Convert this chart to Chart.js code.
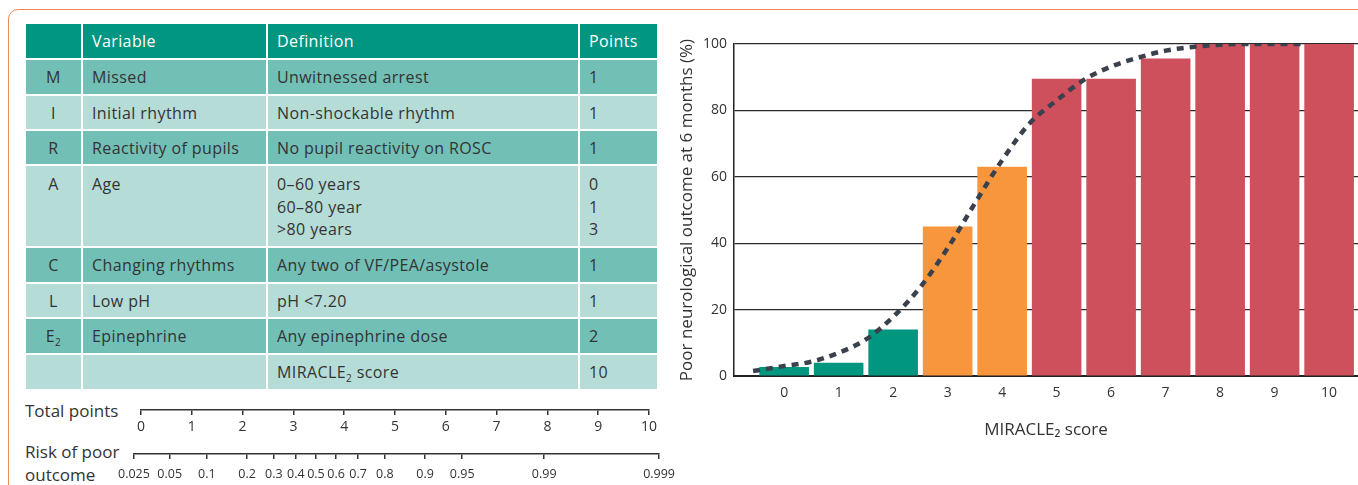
<!DOCTYPE html>
<html>
<head>
<meta charset="utf-8">
<title>MIRACLE2 score</title>
<script src="https://cdn.jsdelivr.net/npm/chart.js@4.4.1/dist/chart.umd.min.js"></script>
<style>
    body {
        margin: 0;
        width: 1358px;
        height: 485px;
        overflow: hidden;
        position: relative;
        background: #fff;
        font-family: 'Open Sans', sans-serif;
        color: #333;
    }
    .frame {
        position: absolute;
        left: 8px;
        top: 9px;
        width: 1420px;
        height: 560px;
        border: 1.5px solid #ee8a55;
        border-radius: 10px;
    }
    table.miracle {
        position: absolute;
        left: 24px;
        top: 22px;
        border-collapse: separate;
        border-spacing: 2px;
        table-layout: fixed;
        width: 635px;
        font-size: 16px;
        letter-spacing: 0.4px;
    }
    table.miracle td {
        box-sizing: border-box;
        padding: 0 9px;
        vertical-align: middle;
        white-space: nowrap;
        color: #333;
    }
    table.miracle td.letter { text-align: center; padding: 0; }
    table.miracle tr.head td { background: #009682; color: #fff; }
    table.miracle tr.dark td { background: #72bfb6; }
    table.miracle tr.light td { background: #b6dcd8; }
    table.miracle tr.tall td { vertical-align: top; padding-top: 7px; line-height: 22.5px; }
    table.miracle sub { font-size: 10px; line-height: 0; }
    .label {
        position: absolute;
        left: 25px;
        font-size: 17px;
        line-height: 20px;
        color: #333;
    }
    canvas { position: absolute; }
</style>
</head>
<body>
<div class="frame"></div>
<table class="miracle" id="scoreTable">
    <colgroup>
        <col style="width:55px"><col style="width:183px"><col style="width:310px"><col style="width:77px">
    </colgroup>
    <tbody></tbody>
</table>

<div class="label" style="top:401px">Total points</div>
<div class="label" style="top:442px">Risk of poor</div>
<div class="label" style="top:465px">outcome</div>

<canvas id="pointsAxis" width="549" height="40" style="left:120px; top:400px"></canvas>
<canvas id="riskAxis" width="573" height="40" style="left:110px; top:444px"></canvas>
<canvas id="outcomeChart" width="698" height="465" style="left:660px; top:20px"></canvas>

<script>
// Score table
const headerCells = ['', 'Variable', 'Definition', 'Points'];
const rowLetters = ['M', 'I', 'R', 'A', 'C', 'L', 'E<sub>2</sub>', ''];
const rowVariables = ['Missed', 'Initial rhythm', 'Reactivity of pupils', 'Age', 'Changing rhythms', 'Low pH', 'Epinephrine', ''];
const rowDefinitions = ['Unwitnessed arrest', 'Non-shockable rhythm', 'No pupil reactivity on ROSC',
    '0–60 years<br>60–80 year<br>&gt;80 years', 'Any two of VF/PEA/asystole', 'pH &lt;7.20',
    'Any epinephrine dose', 'MIRACLE<sub>2</sub> score'];
const rowPoints = ['1', '1', '1', '0<br>1<br>3', '1', '1', '2', '10'];
const rowHeights = [34, 33, 33, 80, 34, 33, 34, 34];

// Nomogram axes
const totalPoints = [0, 1, 2, 3, 4, 5, 6, 7, 8, 9, 10];
const riskTicks = [0.025, 0.05, 0.1, 0.2, 0.3, 0.4, 0.5, 0.6, 0.7, 0.8, 0.9, 0.95, 0.99, 0.999];
const riskLabels = ['0.025', '0.05', '0.1', '0.2', '0.3', '0.4', '0.5', '0.6', '0.7', '0.8', '0.9', '0.95', '0.99', '0.999'];

// Bar chart: observed poor outcome by MIRACLE2 score
const scores = [0, 1, 2, 3, 4, 5, 6, 7, 8, 9, 10];
const poorOutcomePct = [2.7, 4, 14, 45, 63, 89.5, 89.5, 95.6, 100, 100, 100];
const barColors = ['#00967f', '#00967f', '#00967f', '#f7963d', '#f7963d',
    '#cd505c', '#cd505c', '#cd505c', '#cd505c', '#cd505c', '#cd505c'];

// Dashed fitted curve
const curveScore = [-0.57, 0, 0.5, 1, 1.5, 2, 2.5, 3, 3.5, 4, 4.5, 5, 5.5, 6, 6.5, 7, 7.5, 8, 8.5, 9.5];
const curvePct = [1.5, 3, 4.3, 7, 11, 17.8, 26.8, 38.5, 52, 65, 76, 83, 89.2, 93.2, 95.9, 98, 99.1, 99.8, 100, 100];

const textColor = '#333';

// build the table
const tbody = document.querySelector('#scoreTable tbody');
let html = '<tr class="head" style="height:34px">' +
    headerCells.map((c, i) => `<td class="${i === 0 ? 'letter' : ''}" style="height:34px">${c}</td>`).join('') + '</tr>';
rowLetters.forEach((letter, i) => {
    const cls = (i % 2 === 0 ? 'dark' : 'light') + (rowHeights[i] > 40 ? ' tall' : '');
    html += `<tr class="${cls}">` +
        `<td class="letter" style="height:${rowHeights[i]}px">${letter}</td>` +
        `<td style="height:${rowHeights[i]}px">${rowVariables[i]}</td>` +
        `<td style="height:${rowHeights[i]}px">${rowDefinitions[i]}</td>` +
        `<td style="height:${rowHeights[i]}px">${rowPoints[i]}</td></tr>`;
});
tbody.innerHTML = html;

const logit = p => Math.log(p / (1 - p));

const axisOnly = (xScale) => ({
    type: 'line',
    data: { datasets: [] },
    options: {
        responsive: false,
        animation: false,
        plugins: { legend: { display: false }, tooltip: { enabled: false } },
        scales: { x: xScale, y: { display: false } }
    }
});

// Total points axis
const pointsCfg = axisOnly({
    type: 'linear',
    min: 0,
    max: 10,
    afterBuildTicks: (scale) => { scale.ticks = totalPoints.map(v => ({ value: v })); },
    ticks: { padding: 4, color: textColor, font: { family: 'Open Sans', size: 14 }, maxRotation: 0, autoSkip: false },
    grid: { drawOnChartArea: false, tickLength: 5, color: textColor, lineWidth: 1.5 },
    border: { color: textColor, width: 1.5 },
    afterFit: (scale) => { scale.height = 30; }
});
pointsCfg.options.layout = { padding: { left: 21, right: 20, top: 0, bottom: 0 } };
new Chart(document.getElementById('pointsAxis'), pointsCfg);

// Risk of poor outcome axis (logit spaced)
const riskCfg = axisOnly({
    type: 'linear',
    min: logit(riskTicks[0]),
    max: logit(riskTicks[riskTicks.length - 1]),
    afterBuildTicks: (scale) => { scale.ticks = riskTicks.map(p => ({ value: logit(p) })); },
    ticks: {
        padding: 8, color: textColor, font: { family: 'Open Sans', size: 12.5 },
        autoSkip: false, minRotation: 0, maxRotation: 0,
        callback: (value, index) => riskLabels[index]
    },
    grid: { drawOnChartArea: false, tickLength: 5, color: textColor, lineWidth: 1.5 },
    border: { color: textColor, width: 1.5 },
    afterFit: (scale) => { scale.height = 30; }
});
riskCfg.options.layout = { padding: { left: 23, right: 20, top: 0, bottom: 0 } };
new Chart(document.getElementById('riskAxis'), riskCfg);

// Main chart
new Chart(document.getElementById('outcomeChart'), {
    data: {
        datasets: [
            {
                type: 'line',
                label: 'Predicted',
                data: curveScore.map((x, i) => ({ x: x, y: curvePct[i] })),
                borderColor: '#3a414d',
                borderWidth: 4.5,
                borderDash: [7, 6],
                pointRadius: 0,
                cubicInterpolationMode: 'monotone',
                order: 0
            },
            {
                type: 'bar',
                label: 'Observed',
                data: scores.map((x, i) => ({ x: x, y: poorOutcomePct[i] })),
                backgroundColor: barColors,
                barPercentage: 0.91,
                categoryPercentage: 1,
                order: 1
            }
        ]
    },
    options: {
        responsive: false,
        animation: false,
        layout: { padding: { left: 13, top: 24, right: 0, bottom: 41 } },
        plugins: { legend: { display: false }, tooltip: { enabled: false } },
        scales: {
            x: {
                type: 'linear',
                offset: false,
                min: -0.92,
                max: 10.53,
                afterBuildTicks: (scale) => { scale.ticks = scores.map(v => ({ value: v })); },
                ticks: { padding: 9, color: textColor, font: { family: 'Open Sans', size: 14 }, maxRotation: 0, autoSkip: false },
                grid: { display: false, drawTicks: false },
                border: { display: true, color: '#222', width: 2 },
                title: {
                    display: true,
                    text: 'MIRACLE₂ score',
                    color: textColor,
                    font: { family: 'Open Sans', size: 17 },
                    padding: { top: 4, bottom: 4 }
                },
                afterFit: (scale) => { scale.height = 68; }
            },
            y: {
                min: 0,
                max: 100,
                ticks: { stepSize: 20, padding: 7, color: textColor, font: { family: 'Open Sans', size: 14 } },
                grid: { color: '#2b2b2b', lineWidth: 1.2, drawTicks: false },
                border: { color: '#222', width: 1.5 },
                title: {
                    display: true,
                    text: 'Poor neurological outcome at 6 months (%)',
                    color: textColor,
                    font: { family: 'Open Sans', size: 17 },
                    padding: { top: 4, bottom: 4 }
                },
                afterFit: (scale) => { scale.width = 61; }
            }
        }
    }
});
</script>
</body>
</html>
